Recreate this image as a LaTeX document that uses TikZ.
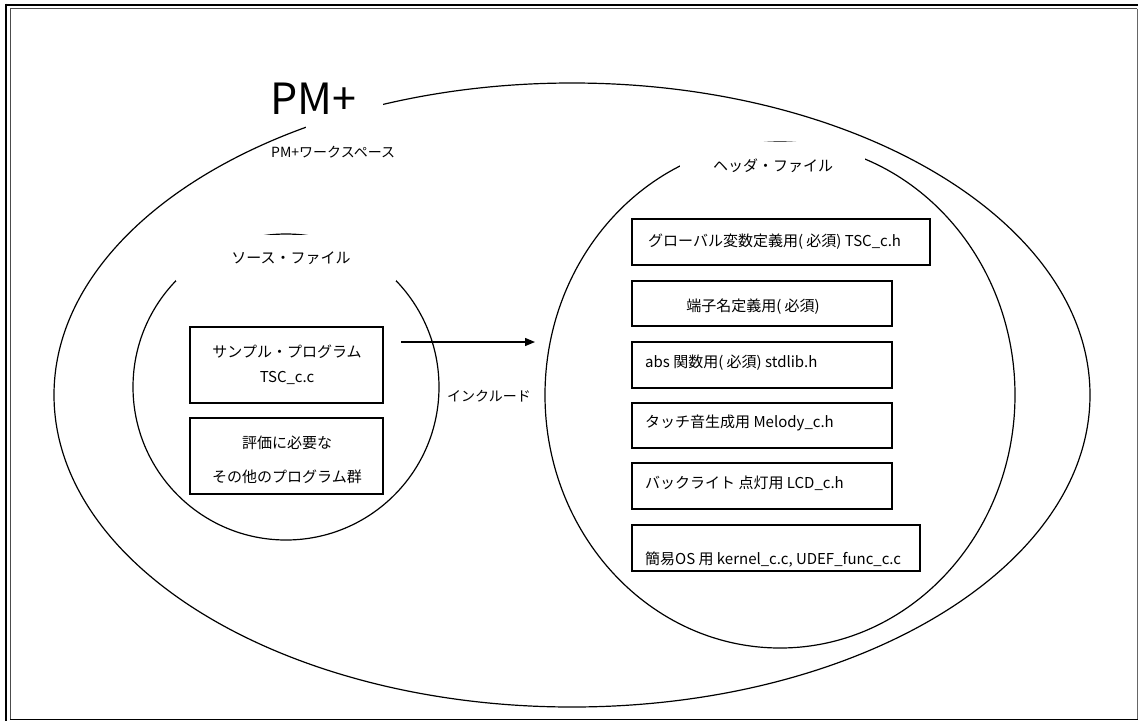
\documentclass[tikz,border=0pt]{standalone}
\usepackage{fontspec}
\setmainfont{Noto Sans CJK JP}
\usetikzlibrary{arrows.meta,shapes.geometric}
\begin{document}
\begin{tikzpicture}[x=1pt,y=-1pt,
  shp/.style={draw=black,line width=1.2pt,ellipse,inner sep=0pt},
  box/.style={draw=black,line width=1.2pt,inner sep=0pt,fill=white},
  lbl/.style={inner sep=0pt,font=\fontsize{15}{17}\selectfont},
  slbl/.style={inner sep=0pt,font=\fontsize{14}{16}\selectfont},
  mask/.style={fill=white,draw=none}]
\useasboundingbox (0,0) rectangle (1138,721);
% frame
\draw[line width=2pt] (5,4.5) -- (1138,4.5);
\draw[line width=2pt] (6,3.5) -- (6,721);
\draw[line width=0.9pt,black!70] (10,8.5) -- (1137,8.5);
\draw[line width=0.9pt,black!70] (10,8.5) -- (10,719.5);
\draw[line width=1pt,black!60] (1137,8.5) -- (1137,719.5);
\draw[line width=1.5pt] (10,719.5) -- (1138,719.5);
% ellipses
\node[shp,minimum width=1036,minimum height=624] (pm) at (572,395) {};
\node[shp,minimum width=306,minimum height=306] (src) at (286,387) {};
\node[shp,minimum width=470,minimum height=506] (hdr) at (780,395) {};
% masks behind labels
\fill[mask] (306,70) rectangle (383,132);
\fill[mask] (176,234.7) rectangle (396,281);
\fill[mask] (680,141.6) rectangle (865,168);
% labels
\node[inner sep=0pt,anchor=west,font=\fontsize{43}{45}\selectfont] (pmt) at (270,99) {PM+};
\node[slbl,anchor=west] (ws) at (271,152.5) {PM+ワークスペース};
\node[lbl] (srct) at (291,258) {ソース・ファイル};
\node[lbl] (hdrt) at (773,166) {ヘッダ・ファイル};
% source boxes
\node[box,minimum width=193,minimum height=76] (sa) at (286.5,365) {};
\node[lbl] (sa1) at (287,352) {サンプル・プログラム};
\node[lbl] (sa2) at (287,378) {TSC\_c.c};
\node[box,minimum width=193,minimum height=76] (sb) at (286.5,456) {};
\node[lbl] (sb1) at (287,443) {評価に必要な};
\node[lbl] (sb2) at (287,477) {その他のプログラム群};
% header boxes
\node[box,minimum width=298,minimum height=46] (b1) at (781,242) {};
\node[lbl,anchor=west] (t1) at (648,242) {グローバル変数定義用( 必須) TSC\_c.h};
\node[box,minimum width=260,minimum height=45] (b2) at (762,303.5) {};
\node[lbl] (t2) at (753,307) {端子名定義用( 必須)};
\node[box,minimum width=260,minimum height=46] (b3) at (762,365) {};
\node[lbl,anchor=west] (t3) at (645,363) {abs 関数用( 必須) stdlib.h};
\node[box,minimum width=260,minimum height=45] (b4) at (762,425.5) {};
\node[lbl,anchor=west] (t4) at (645,423) {タッチ音生成用 Melody\_c.h};
\node[box,minimum width=260,minimum height=46] (b5) at (762,486) {};
\node[lbl,anchor=west] (t5) at (645,483) {バックライト 点灯用 LCD\_c.h};
\node[box,minimum width=288,minimum height=46] (b6) at (776,548) {};
\node[lbl,anchor=west] (t6) at (645,560) {簡易OS 用 kernel\_c.c, UDEF\_func\_c.c};
% arrow
\coordinate (as) at (401,342);
\coordinate (ae) at (535,342);
\draw[line width=1.3pt,-{Triangle[length=10pt,width=8pt]}] (as) -- (ae);
\node[slbl] (inc) at (489,396) {インクルード};
\end{tikzpicture}
\end{document}
